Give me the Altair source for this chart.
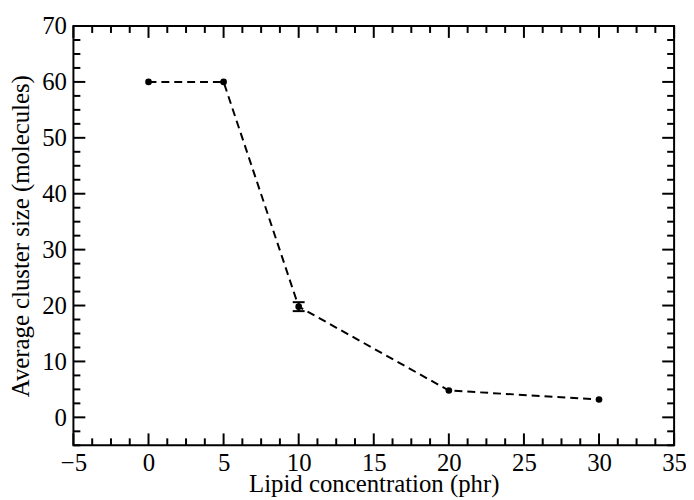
import altair as alt
import pandas as pd

# Data
x_vals = [0, 5, 10, 20, 30]
y_vals = [60.0, 60.0, 19.8, 4.8, 3.2]
err_vals = [0.0, 0.0, 0.8, 0.0, 0.0]

x_major = [-5, 0, 5, 10, 15, 20, 25, 30, 35]
y_major = [0, 10, 20, 30, 40, 50, 60, 70]
x_minor = [k * 1.25 for k in range(-4, 29) if k % 4 != 0]
y_minor = [k * 2.5 for k in range(-2, 29) if k % 4 != 0]

W, H = 606, 423
FONT = "Liberation Serif"

df = pd.DataFrame({"x": x_vals, "y": y_vals, "err": err_vals})
df["lo"] = df["y"] - df["err"]
df["hi"] = df["y"] + df["err"]
df_err = df[df["err"] > 0]

xs = alt.Scale(domain=[-5, 35], nice=False, zero=False)
ys = alt.Scale(domain=[-5, 70], nice=False, zero=False)

base = alt.Chart(df)

line = base.mark_line(color="black", strokeWidth=2, strokeDash=[8, 5]).encode(
    x=alt.X("x:Q", scale=xs,
            axis=alt.Axis(values=x_major, title="Lipid concentration (phr)",
                          ticks=False, domain=False, grid=False,
                          labelFont=FONT, labelFontSize=25, labelColor="black",
                          labelPadding=5, titleFont=FONT, titleFontSize=25,
                          titleFontWeight="normal", titleColor="black",
                          titlePadding=-3, labelFlush=False)),
    y=alt.Y("y:Q", scale=ys,
            axis=alt.Axis(values=y_major, title="Average cluster size (molecules)",
                          ticks=False, domain=False, grid=False,
                          labelFont=FONT, labelFontSize=25, labelColor="black",
                          labelPadding=7, titleFont=FONT, titleFontSize=25,
                          titleFontWeight="normal", titleColor="black",
                          titlePadding=8, labelFlush=False)),
)

points = base.mark_point(filled=True, color="black", size=45, opacity=1).encode(
    x=alt.X("x:Q", scale=xs), y=alt.Y("y:Q", scale=ys))

err_rule = alt.Chart(df_err).mark_rule(color="black", strokeWidth=2).encode(
    x=alt.X("x:Q", scale=xs), y=alt.Y("lo:Q", scale=ys), y2="hi:Q")
err_lo = alt.Chart(df_err).mark_tick(color="black", orient="horizontal", size=12,
                                     thickness=2, opacity=1).encode(
    x=alt.X("x:Q", scale=xs), y=alt.Y("lo:Q", scale=ys))
err_hi = alt.Chart(df_err).mark_tick(color="black", orient="horizontal", size=12,
                                     thickness=2, opacity=1).encode(
    x=alt.X("x:Q", scale=xs), y=alt.Y("hi:Q", scale=ys))


def xticks(vals, length):
    d = pd.DataFrame({"v": vals})
    bottom = alt.Chart(d).mark_rule(color="black", strokeWidth=2).encode(
        x=alt.X("v:Q", scale=xs), y=alt.value(H), y2=alt.value(H - length))
    top = alt.Chart(d).mark_rule(color="black", strokeWidth=2).encode(
        x=alt.X("v:Q", scale=xs), y=alt.value(0), y2=alt.value(length))
    return bottom + top


def yticks(vals, length):
    d = pd.DataFrame({"v": vals})
    left = alt.Chart(d).mark_rule(color="black", strokeWidth=2).encode(
        y=alt.Y("v:Q", scale=ys), x=alt.value(0), x2=alt.value(length))
    right = alt.Chart(d).mark_rule(color="black", strokeWidth=2).encode(
        y=alt.Y("v:Q", scale=ys), x=alt.value(W), x2=alt.value(W - length))
    return left + right


chart = alt.layer(
    line, points, err_rule, err_lo, err_hi,
    xticks(x_major, 12), xticks(x_minor, 7),
    yticks(y_major, 12), yticks(y_minor, 7),
).properties(
    width=W, height=H,
    autosize=alt.AutoSizeParams(type="none"),
    padding={"left": 66, "top": 16, "right": 12, "bottom": 51},
    background="white",
).configure_view(stroke="black", strokeWidth=2)

chart.save("out.html", embed_options={"renderer": "svg", "actions": False})
